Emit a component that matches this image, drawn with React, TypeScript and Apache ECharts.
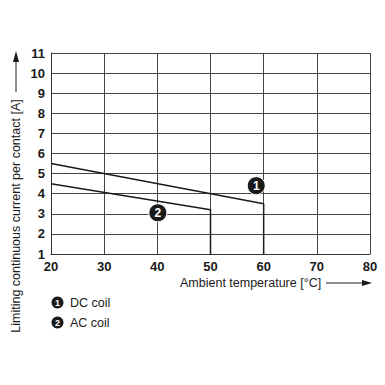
import React, { useEffect, useRef } from "react";
import * as echarts from "echarts";

const xTicks = [20, 30, 40, 50, 60, 70, 80];
const yTicks = [1, 2, 3, 4, 5, 6, 7, 8, 9, 10, 11];
const dcCoil: [number, number][] = [[20, 5.5], [60, 3.5], [60, 1]];
const acCoil: [number, number][] = [[20, 4.5], [50, 3.2], [50, 1]];
const labelPoints: { value: [number, number]; label: string }[] = [
  { value: [58.6, 4.4], label: "1" },
  { value: [40.1, 3.05], label: "2" },
];
const legendItems = [
  { num: "1", text: "DC coil" },
  { num: "2", text: "AC coil" },
];
const xTitle = "Ambient temperature [°C]";
const yTitle = "Limiting continuous current per contact [A]";

const FONT = "'Liberation Sans', Arial, Helvetica, sans-serif";
const INK = "#1a1a1a";

export default function App() {
  const ref = useRef<HTMLDivElement>(null);
  useEffect(() => {
    if (!ref.current) return;
    const chart = echarts.init(ref.current, undefined, { renderer: "svg" });
    const legendGraphics: any[] = [];
    legendItems.forEach((it, i) => {
      const cy = 302.5 + i * 20;
      legendGraphics.push({
        type: "circle",
        shape: { cx: 57.5, cy, r: 6 },
        style: { fill: INK },
      });
      legendGraphics.push({
        type: "text",
        x: 57.5,
        y: cy,
        style: { text: it.num, fill: "#fff", font: `bold 9px ${FONT}`, align: "center", verticalAlign: "middle" },
      });
      legendGraphics.push({
        type: "text",
        x: 70,
        y: cy,
        style: { text: it.text, fill: INK, font: `12.5px ${FONT}`, align: "left", verticalAlign: "middle" },
      });
    });
    chart.setOption({
      animation: false,
      backgroundColor: "#fff",
      grid: { left: 51, top: 53, right: 15, bottom: 131, containLabel: false },
      xAxis: {
        type: "value",
        min: xTicks[0],
        max: xTicks[xTicks.length - 1],
        interval: 10,
        axisLine: { show: true, lineStyle: { color: "#333", width: 1 } },
        axisTick: { show: false },
        splitLine: { show: true, lineStyle: { color: "#444", width: 1 } },
        axisLabel: { color: INK, fontFamily: FONT, fontWeight: "bold", fontSize: 13, margin: 6 },
      },
      yAxis: {
        type: "value",
        min: yTicks[0],
        max: yTicks[yTicks.length - 1],
        interval: 1,
        axisLine: { show: true, lineStyle: { color: "#333", width: 1 } },
        axisTick: { show: false },
        splitLine: { show: true, lineStyle: { color: "#444", width: 1 } },
        axisLabel: { color: INK, fontFamily: FONT, fontWeight: "bold", fontSize: 13, margin: 6 },
      },
      series: [
        {
          type: "line",
          data: dcCoil,
          symbol: "none",
          lineStyle: { color: INK, width: 1.5 },
        },
        {
          type: "line",
          data: acCoil,
          symbol: "none",
          lineStyle: { color: INK, width: 1.5 },
        },
        {
          type: "scatter",
          data: labelPoints.map((p) => ({ value: p.value, name: p.label })),
          symbol: "circle",
          symbolSize: 18,
          itemStyle: { color: INK, opacity: 1, borderColor: "#fff", borderWidth: 1 },
          label: {
            show: true,
            position: "inside",
            formatter: (p: any) => p.name,
            color: "#fff",
            fontFamily: FONT,
            fontWeight: "bold",
            fontSize: 12,
          },
          z: 5,
        },
      ],
      graphic: [
        {
          type: "text",
          x: 180,
          y: 283,
          style: { text: xTitle, fill: INK, font: `12.5px ${FONT}`, align: "left", verticalAlign: "middle" },
        },
        { type: "line", shape: { x1: 326, y1: 283, x2: 364, y2: 283 }, style: { stroke: INK, lineWidth: 1 } },
        { type: "polygon", shape: { points: [[372, 283], [362, 280], [362, 286]] }, style: { fill: INK } },
        {
          type: "text",
          x: 16,
          y: 216,
          rotation: Math.PI / 2,
          style: { text: yTitle, fill: INK, font: `12.5px ${FONT}`, align: "center", verticalAlign: "middle" },
        },
        { type: "line", shape: { x1: 16, y1: 92, x2: 16, y2: 60 }, style: { stroke: INK, lineWidth: 1 } },
        { type: "polygon", shape: { points: [[16, 51], [13, 62], [19, 62]] }, style: { fill: INK } },
        ...legendGraphics,
      ],
    });
    return () => chart.dispose();
  }, []);
  return <div ref={ref} style={{ position: "absolute", left: 0, top: 0, width: 385, height: 385 }} />;
}
